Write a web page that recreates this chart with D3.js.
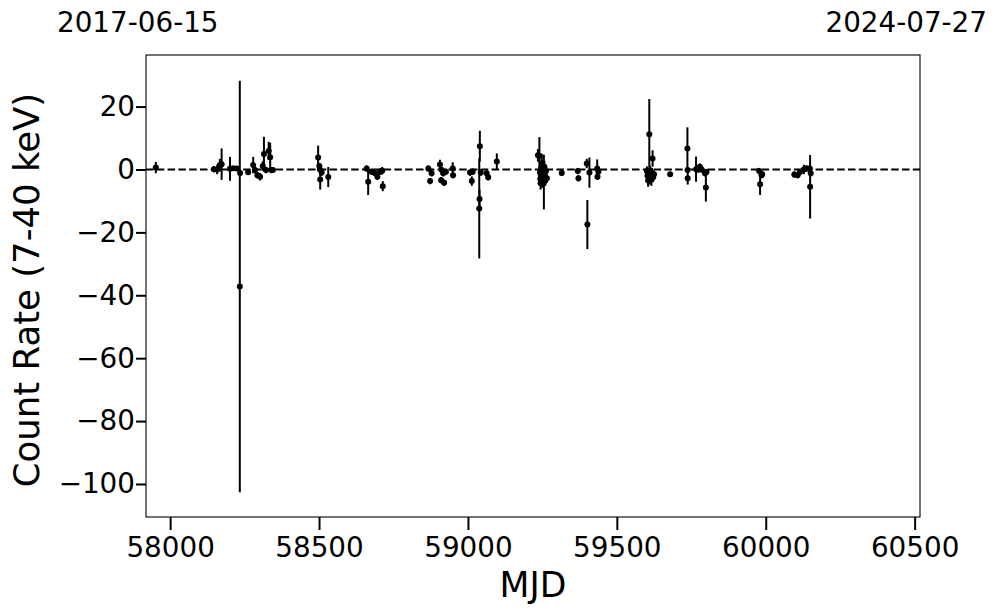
<!DOCTYPE html>
<html>
<head>
<meta charset="utf-8">
<script src="https://cdn.jsdelivr.net/npm/d3@7"></script>
<style>
  html, body { margin: 0; padding: 0; background: #fff; }
  svg { display: block; font-family: "DejaVu Sans", sans-serif; }
</style>
</head>
<body>
<svg id="chart" width="997" height="613"></svg>
<script>
// ---- data ----
const mjd = [
  57952,
  58147, 58158, 58167, 58173, 58201, 58212, 58224, 58235, 58234, 58262, 58279, 58285, 58293, 58302, 58311, 58315, 58322, 58331, 58336, 58340, 58345,
  58497, 58501, 58503, 58509, 58504, 58531,
  58660, 58665, 58677, 58688, 58696, 58705, 58712, 58714,
  58867, 58873, 58878, 58906, 58910, 58912, 58917, 58920, 58926, 58949, 58950,
  59007, 59013, 59016, 59040, 59038, 59039, 59043, 59063, 59068, 59097,
  59235, 59240, 59242, 59243, 59244, 59245, 59246, 59247, 59248, 59249, 59250, 59251, 59252, 59253, 59254, 59255, 59256, 59257, 59258, 59260, 59262, 59265,
  59315, 59369, 59371, 59399, 59408, 59401, 59434, 59438, 59435,
  59609, 59620, 59601, 59603, 59605, 59607, 59610, 59612, 59614, 59616, 59618, 59622, 59625, 59679,
  59737, 59737.5, 59738, 59766, 59774, 59779, 59785, 59796, 59801, 59799,
  59978, 59981, 59986, 59988,
  60096, 60107, 60115, 60128, 60137, 60148, 60149, 60151
];
const rate = [
  0.6,
  0.1, 0.0, 1.4, 1.7, 0.2, 0.4, 0.3, -1.1, -37.2, -0.9, 1.4, -0.2, -1.8, -2.3, 1.1, 4.9, -0.2, 5.9, 3.9, -0.2, -0.2,
  3.8, 1.1, 0.0, -1.0, -3.2, -2.4,
  0.3, -3.9, -0.7, -1.2, -2.3, -0.7, -0.4, -5.3,
  0.3, -3.7, -1.2, 1.6, -3.4, -0.2, -1.2, -4.2, -0.7, 0.3, -1.8,
  -1.0, -3.7, -0.7, 7.4, -12.4, -9.4, -1.0, -1.2, -2.5, 2.5,
  4.5, 4.3, -1.0, -3.0, -4.4, -2.0, 0.5, -3.5, 2.0, -1.5, -3.8, 1.0, -2.5, 0.2, -3.0, -4.0, -1.2, 0.8, -2.2, -3.2, -0.5, -2.8,
  -1.1, -0.5, -2.8, 1.9, -1.0, -17.5, 0.3, -0.7, -2.3,
  11.2, 3.5, -0.5, -2.0, -3.5, -1.2, -2.8, -0.3, -1.8, -3.2, -1.0, -2.5, -1.5, -1.5,
  6.7, -0.2, -2.8, 0.1, 0.0, 0.9, 0.0, -1.2, -0.8, -5.7,
  -0.5, -4.7, -1.8, -1.5,
  -1.6, -1.8, -0.8, 0.0, 0.3, 0.3, -5.5, -1.2
];
const err = [
  1.8,
  1.0, 1.5, 2.0, 5.0, 3.8, 0.6, 0.6, 0.8, 65.4, 0.8, 2.6, 1.0, 1.0, 1.2, 1.5, 5.5, 1.0, 2.9, 4.6, 1.0, 0.8,
  3.8, 1.0, 1.0, 1.0, 3.2, 3.2,
  1.0, 4.2, 1.0, 1.0, 1.0, 1.0, 1.2, 1.6,
  1.0, 1.0, 1.0, 1.5, 1.0, 1.0, 1.0, 1.0, 1.0, 2.0, 1.0,
  1.0, 1.5, 1.0, 4.9, 15.9, 3.0, 1.0, 1.0, 1.0, 2.6,
  2.0, 6.0, 2.0, 2.0, 2.0, 2.0, 2.0, 2.0, 3.0, 2.0, 2.0, 2.0, 2.0, 2.0, 2.0, 8.7, 2.0, 2.0, 2.0, 2.0, 2.0, 1.5,
  1.0, 1.0, 1.0, 1.5, 4.8, 7.8, 2.9, 1.0, 1.0,
  11.2, 2.6, 1.5, 1.5, 2.0, 1.5, 2.0, 1.5, 1.5, 2.0, 1.5, 1.5, 1.0, 0.8,
  6.7, 1.0, 2.0, 4.0, 1.0, 1.0, 1.0, 1.0, 1.0, 4.5,
  1.0, 3.4, 1.0, 1.0,
  1.0, 1.0, 1.0, 1.5, 1.0, 1.0, 10.1, 1.0
];
const xTicks = [58000, 58500, 59000, 59500, 60000, 60500];
const yTicks = [20, 0, -20, -40, -60, -80, -100];
const xDomain = [57919, 60518];   // 2017-06-15 .. 2024-07-27
const yDomain = [-110.5, 36.4];
const dateLabels = ["2017-06-15", "2024-07-27"];
const xTitle = "MJD";
const yTitle = "Count Rate (7-40 keV)";

// ---- layout ----
const margin = { left: 146, right: 77, top: 55, bottom: 96 };
const W = 997, H = 613;
const pw = W - margin.left - margin.right;
const ph = H - margin.top - margin.bottom;

const svg = d3.select("#chart");
const g = svg.append("g").attr("transform", `translate(${margin.left},${margin.top})`);

const x = d3.scaleLinear().domain(xDomain).range([0, pw]);
const y = d3.scaleLinear().domain(yDomain).range([ph, 0]);

const fmt = v => (v < 0 ? "\u2212" + Math.abs(v) : String(v));

// axes
const xAxis = g.append("g").attr("transform", `translate(0,${ph})`)
  .call(d3.axisBottom(x).tickValues(xTicks).tickFormat(d3.format("d")).tickSize(13).tickPadding(7));
const yAxis = g.append("g")
  .call(d3.axisLeft(y).tickValues(yTicks).tickFormat(fmt).tickSize(10).tickPadding(1));
[xAxis, yAxis].forEach(a => {
  a.select(".domain").remove();
  a.selectAll(".tick line").attr("stroke", "#000").attr("stroke-width", 2);
  a.selectAll(".tick text").attr("fill", "#000").style("font-size", "27.8px")
    .style("font-family", "'DejaVu Sans', sans-serif");
});

// zero line
g.append("line")
  .attr("x1", 0).attr("x2", pw)
  .attr("y1", y(0)).attr("y2", y(0))
  .attr("stroke", "#000").attr("stroke-width", 1.8)
  .attr("stroke-dasharray", "7.5,3.3");

const data = mjd.map((m, i) => ({ m, r: rate[i], e: err[i] }));

// error bars
g.append("g").selectAll("line").data(data).join("line")
  .attr("x1", d => x(d.m)).attr("x2", d => x(d.m))
  .attr("y1", d => y(d.r - d.e)).attr("y2", d => y(d.r + d.e))
  .attr("stroke", "#000").attr("stroke-width", 2);

// points
g.append("g").selectAll("circle").data(data).join("circle")
  .attr("cx", d => x(d.m)).attr("cy", d => y(d.r))
  .attr("r", 3).attr("fill", "#000");

// frame
g.append("rect").attr("x", 0).attr("y", 0).attr("width", pw).attr("height", ph)
  .attr("fill", "none").attr("stroke", "#000").attr("stroke-width", 1.1);

// titles
svg.append("text").attr("x", margin.left + pw / 2).attr("y", 597)
  .attr("text-anchor", "middle").style("font-size", "34.7px").text(xTitle);
svg.append("text").attr("transform", `translate(39,290) rotate(-90)`)
  .attr("text-anchor", "middle").style("font-size", "35.5px").text(yTitle);

// date labels on top
svg.append("text").attr("x", 57).attr("y", 32).attr("text-anchor", "start")
  .style("font-size", "27.8px").text(dateLabels[0]);
svg.append("text").attr("x", 987).attr("y", 32).attr("text-anchor", "end")
  .style("font-size", "27.8px").text(dateLabels[1]);
</script>
</body>
</html>
